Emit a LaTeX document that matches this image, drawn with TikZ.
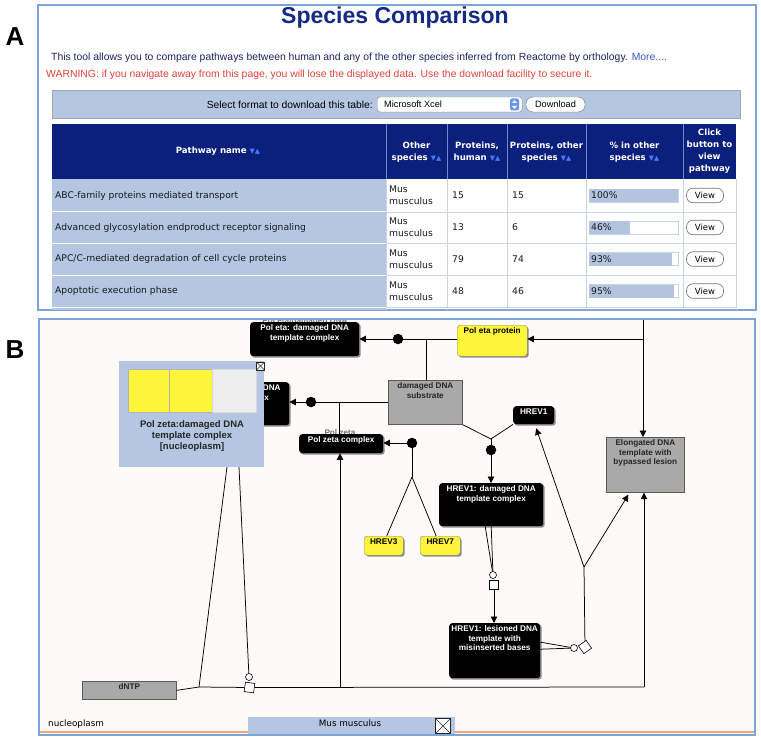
\documentclass[tikz,border=0pt]{standalone}
\usepackage{fontspec}
\setmainfont{Liberation Sans}
\newfontfamily\dvs{DejaVu Sans}
\usetikzlibrary{arrows.meta,shadows,calc}
\definecolor{navy}{HTML}{0B1F7C}
\definecolor{titlenavy}{HTML}{142A85}
\definecolor{txtnavy}{HTML}{1B2560}
\definecolor{lblue}{HTML}{B4C6E1}
\definecolor{pborder}{HTML}{7EA3D9}
\definecolor{warnred}{HTML}{E2433B}
\definecolor{morebl}{HTML}{3A56C0}
\definecolor{rowline}{HTML}{C9D3E4}
\definecolor{hdrline}{HTML}{6C89CF}
\definecolor{arrblue}{HTML}{4677F5}
\definecolor{ylw}{HTML}{FCF53A}
\definecolor{gbox}{HTML}{A9A9A9}
\definecolor{bgB}{HTML}{FDFAF8}
\definecolor{orng}{HTML}{F2A77A}
\definecolor{barbl}{HTML}{B2C4DE}
\newcommand{\bt}[3]{\parbox[c][#2pt][t]{#1pt}{\centering\rule{0pt}{8.6pt}#3}}
\newcommand{\ud}{{\dvs\fontsize{6.8}{6.8}\selectfont\textcolor{arrblue}{▼▲}}}
\tikzset{
  shd/.style={drop shadow={shadow xshift=1.5pt,shadow yshift=-1.5pt,fill=black!45,opacity=1}},
  blackbox/.style={shd, fill=black, rounded corners=3pt, inner sep=0pt, text=white, font=\bfseries\fontsize{8.2}{9.3}\selectfont},
  ybox/.style={shd, fill=ylw, draw=black!45, line width=0.4pt, rounded corners=3pt, inner sep=0pt, text=black, font=\bfseries\fontsize{8.2}{9.3}\selectfont},
  gybox/.style={fill=gbox, draw=black!65, line width=0.7pt, inner sep=0pt, text=black!85, font=\bfseries\fontsize{8.2}{9.3}\selectfont},
  ln/.style={draw=black, line width=0.75pt},
  arr/.style={ln, -{Triangle[length=6.5pt,width=6.5pt]}},
  rdot/.style={circle, fill=black, inner sep=0pt, minimum size=10.5pt},
  ocirc/.style={circle, draw=black, fill=white, inner sep=0pt, minimum size=7pt, line width=0.6pt},
  osq/.style={draw=black, fill=white, inner sep=0pt, minimum size=9.5pt, line width=0.6pt},
  ghost/.style={text=black!55, font=\bfseries\fontsize{8.2}{9.3}\selectfont, inner sep=0pt},
  closebox/.style={draw=black!85, fill=white, minimum size=#1, inner sep=0pt, line width=0.6pt,
    path picture={\draw[black!85, line width=0.6pt] (path picture bounding box.south west) -- (path picture bounding box.north east) (path picture bounding box.north west) -- (path picture bounding box.south east);}},
  body/.style={font=\dvs\fontsize{9.2}{12}\selectfont, text=black!90, inner sep=0pt},
  hdr/.style={font=\dvs\bfseries\fontsize{8.6}{12}\selectfont, text=white, align=center, inner sep=0pt},
  viewbtn/.style={draw=black!55, fill=white, rounded corners=6.5pt, minimum width=37pt, minimum height=14.5pt, inner sep=0pt, font=\dvs\fontsize{8.5}{9}\selectfont, line width=0.6pt},
}
\begin{document}
\begin{tikzpicture}[x=1pt,y=-1pt]
\useasboundingbox (0,0) rectangle (761,741);
\fill[white] (0,0) rectangle (761,741);
% ---------------- Panel A ----------------
\draw[pborder, line width=1.2pt] (38,5) rectangle (756,310);
\node[font=\bfseries\fontsize{26}{26}\selectfont] (lA) at (15,37) {A};
\node[font=\bfseries\fontsize{26}{26}\selectfont] (lB) at (15,350) {B};
\node[font=\bfseries\fontsize{23}{23}\selectfont, text=titlenavy, inner sep=0pt] (title) at (395,18) {Species Comparison};
\node[anchor=west, inner sep=0pt, font=\fontsize{10.4}{12}\selectfont, text=txtnavy] (intro) at (51,57.5) {This tool allows you to compare pathways between human and any of the other species inferred from Reactome by orthology. \textcolor{morebl}{More....}};
\node[anchor=west, inner sep=0pt, font=\fontsize{10.4}{12}\selectfont, text=warnred] (warn) at (46,75) {WARNING: if you navigate away from this page, you will lose the displayed data. Use the download facility to secure it.};
% download bar
\node[fill=lblue, draw=black!35, line width=0.6pt, minimum width=688pt, minimum height=28pt, anchor=north west, inner sep=0pt] (dlbar) at (52,90) {};
\node[anchor=east, inner sep=0pt, font=\fontsize{10.3}{12}\selectfont] (sel) at (373,104.5) {Select format to download this table:};
\node[draw=black!45, fill=white, rounded corners=3pt, minimum width=145pt, minimum height=15pt, anchor=west, inner sep=0pt] (dd) at (377,104.5) {};
\node[anchor=west, inner sep=0pt, font=\fontsize{9.2}{10}\selectfont] (ddt) at (384,104.5) {Microsoft Xcel};
\node[fill=arrblue!80, rounded corners=2pt, minimum width=9pt, minimum height=12pt, inner sep=0pt] (spin) at (514.5,104.5) {};
\fill[white] (512,103) -- (517,103) -- (514.5,100) -- cycle;
\fill[white] (512,106) -- (517,106) -- (514.5,109) -- cycle;
\node[draw=black!55, fill=white, rounded corners=7pt, minimum width=59pt, minimum height=15pt, inner sep=0pt, font=\fontsize{9.2}{10}\selectfont] (dlb) at (555.5,104.5) {Download};
% table
\fill[navy] (52,124) rectangle (736,179);
\fill[lblue] (52,179) rectangle (386,310);
\foreach \x in {386,447,507,586,683} \draw[hdrline, line width=0.8pt] (\x,124) -- (\x,179);
\foreach \x in {386,447,507,586,683,736} \draw[rowline, line width=0.8pt] (\x,179) -- (\x,310);
\foreach \y in {212,243,275,307} {
  \draw[white, line width=1pt] (52,\y) -- (386,\y);
  \draw[rowline, line width=0.8pt] (386,\y) -- (736,\y);
}
\node[hdr] (h1) at (218,151) {Pathway name \ud};
\node[hdr] (h2) at (416.5,152) {Other\\species \ud};
\node[hdr] (h3) at (477,152) {Proteins,\\human \ud};
\node[hdr] (h4) at (546.5,152) {Proteins, other\\species \ud};
\node[hdr] (h5) at (634.5,152) {\% in other\\species \ud};
\node[hdr] (h6) at (709.5,151.5) {Click\\button to\\view\\pathway};
\foreach \i/\y/\nm/\ha/\hb/\p in {1/195.5/{ABC-family proteins mediated transport}/15/15/100,
    2/227.5/{Advanced glycosylation endproduct receptor signaling}/13/6/46,
    3/259/{APC/C-mediated degradation of cell cycle proteins}/79/74/93,
    4/291/{Apoptotic execution phase}/48/46/95} {
  \node[body, anchor=west] (pn\i) at (55,\y) {\nm};
  \node[body, anchor=west, align=left] (os\i) at (389,\y) {Mus\\musculus};
  \node[body, anchor=west] (ph\i) at (452,\y) {\ha};
  \node[body, anchor=west] (po\i) at (512,\y) {\hb};
  \draw[rowline, fill=white, line width=0.6pt] (589,\y-6.5) rectangle (678,\y+6.5);
  \fill[barbl] (589,\y-6.5) rectangle ({589+0.89*\p},\y+6.5);
  \node[body, anchor=west] (pc\i) at (591,\y) {\p\%};
  \node[viewbtn] (vw\i) at (705,\y) {View};
}
% ---------------- Panel B ----------------
\fill[bgB] (39,319) rectangle (755,735);
\begin{scope}
\clip (39,319) rectangle (755,735);
% ghost labels (partly hidden behind boxes)
\node[ghost, anchor=base] (g1) at (305,323) {Pol eta/damaged DNA};
\node[ghost, anchor=base] (g2) at (340,435.5) {Pol zeta};
% boxes
\node[blackbox, anchor=north west] (peC) at (250,322) {\bt{109}{34}{Pol eta: damaged DNA\\template complex}};
\node[blackbox, anchor=north west] (pzC) at (179,382) {\bt{110}{43}{Pol zeta: damaged DNA\\template complex}};
\node[ybox, anchor=north west] (pep) at (457,325) {\bt{70}{31}{Pol eta protein}};
\node[gybox, anchor=north west] (dds) at (388,380) {\bt{74}{44}{damaged DNA\\substrate}};
\node[blackbox, anchor=north west] (pzc) at (299,434) {\bt{84}{19}{Pol zeta complex}};
\node[ybox, anchor=north west] (hrev3) at (364,536) {\bt{39}{19}{HREV3}};
\node[ybox, anchor=north west] (hrev7) at (420,536) {\bt{40}{19}{HREV7}};
\node[blackbox, anchor=north west] (hrev1) at (513,406) {\bt{41}{18}{HREV1}};
\node[blackbox, anchor=north west] (hdc) at (439,483) {\bt{104}{43}{HREV1: damaged DNA\\template complex}};
\node[blackbox, anchor=north west] (hlc) at (449,623) {\bt{91}{55}{HREV1: lesioned DNA\\template with\\misinserted bases}};
\node[gybox, anchor=north west] (edt) at (606,437) {\bt{78}{55}{Elongated DNA\\template with\\bypassed lesion}};
\node[gybox, anchor=north west] (dntp) at (82,681) {\bt{94}{18}{dNTP}};
% reaction glyphs
\node[rdot] (d1) at (398,339) {};
\node[rdot] (d2) at (311,402) {};
\node[rdot] (d3) at (412,443) {};
\node[rdot] (d4) at (491,450) {};
\node[ocirc] (c5) at (493,575) {};
\node[osq] (s5) at (494,585) {};
\node[ocirc] (c6) at (574,648) {};
\node[osq, rotate=35] (s6) at (585,647) {};
\node[ocirc] (c7) at (249,677) {};
\node[osq, rotate=-8] (s7) at (249.5,687.5) {};
\coordinate (b1) at (426,339);
\coordinate (b2) at (339,402);
\coordinate (j3) at (412,477);
\coordinate (j4) at (491,439);
\coordinate (j6) at (584,567);
\coordinate (top) at (643,318);
\coordinate (b5) at (643,339);
\coordinate (jb) at (199,687);
\coordinate (ex) at (644,687);
\coordinate (b7) at (340,687);
\coordinate (pl1) at (227,467);
\coordinate (pl2) at (239,467);
% connectors
\draw[ln] (pep.west |- d1) -- (d1);
\draw[arr] (d1) -- (d1 -| peC.east);
\draw[ln] (b1) -- (b1 |- dds.north);
\draw[ln] (d2 -| dds.west) -- (d2);
\draw[arr] (d2) -- (d2 -| pzC.east);
\draw[ln] (b2) -- (b2 |- pzc.north);
\draw[arr] (d3) -- (d3 -| pzc.east);
\draw[ln] (d3) -- (j3);
\draw[ln] (j3) -- ($(hrev3.north)+(3,0)$);
\draw[ln] (j3) -- ($(hrev7.north)+(-4,0)$);
\draw[ln] (dds.south east) -- (j4);
\draw[ln] (hrev1.south west) -- (j4);
\draw[ln] (j4) -- (d4);
\draw[arr] (d4) -- (d4 |- hdc.north);
\draw[ln] ($(hdc.south)+(-6,0)$) -- (c5);
\draw[ln] (hdc.south) -- (c5);
\draw[arr] (s5) -- (s5 |- hlc.north);
\draw[ln] ($(hlc.east)+(0,-8.5)$) -- (c6);
\draw[ln] ($(hlc.east)+(0,-1.5)$) -- (c6);
\draw[ln] (s6) -- (j6);
\draw[arr] (j6) -- ($(hrev1.south)+(2.5,4)$);
\draw[arr] (j6) -- ($(edt.south)+(-17,2)$);
\draw[arr] (top) -- (top |- edt.north);
\draw[arr] (b5) -- (b5 -| pep.east);
\draw[ln] (dntp.east) -- (jb);
\draw[ln] (jb) -- (s7);
\draw[ln] (s7) -- (ex);
\draw[arr] (ex) -- (ex |- edt.south);
\draw[arr] (b7) -- (b7 |- pzc.south);
\draw[ln] (pl1) -- (jb);
\draw[ln] (pl2) -- (c7);
% popup
\node[fill=lblue, minimum width=145pt, minimum height=106pt, anchor=north west, inner sep=0pt] (pop) at (119,361) {};
\node[draw=black!30, fill=ylw, minimum width=41pt, minimum height=43pt, anchor=north west, inner sep=0pt] (sq1) at (128,369) {};
\node[draw=black!30, fill=ylw, minimum width=43pt, minimum height=43pt, anchor=north west, inner sep=0pt] (sq2) at (169,369) {};
\node[draw=black!15, fill=black!7, minimum width=44pt, minimum height=43pt, anchor=north west, inner sep=0pt] (sq3) at (212,369) {};
\node[closebox=8pt] (px) at (260.5,366) {};
\node[font=\bfseries\fontsize{9.5}{11.3}\selectfont, text=black!85, align=center, inner sep=0pt] (popt) at (192,436) {Pol zeta:damaged DNA\\template complex\\{[}nucleoplasm{]}};
\end{scope}
% bottom strip
\draw[orng, line width=1.3pt] (39,732) -- (755,732);
\node[anchor=base west, inner sep=0pt, font=\dvs\fontsize{8.8}{10}\selectfont] (nuc) at (48,726) {nucleoplasm};
\node[fill=lblue, anchor=south west, minimum width=207pt, minimum height=18pt, inner sep=0pt] (tab) at (248,735) {};
\node[anchor=base, inner sep=0pt, font=\dvs\fontsize{8.8}{10}\selectfont] (tabt) at (350,726) {Mus musculus};
\node[closebox=15pt] (tabx) at (443,726) {};
\draw[pborder, line width=1.2pt] (39,319) rectangle (755,735);
\end{tikzpicture}
\end{document}
